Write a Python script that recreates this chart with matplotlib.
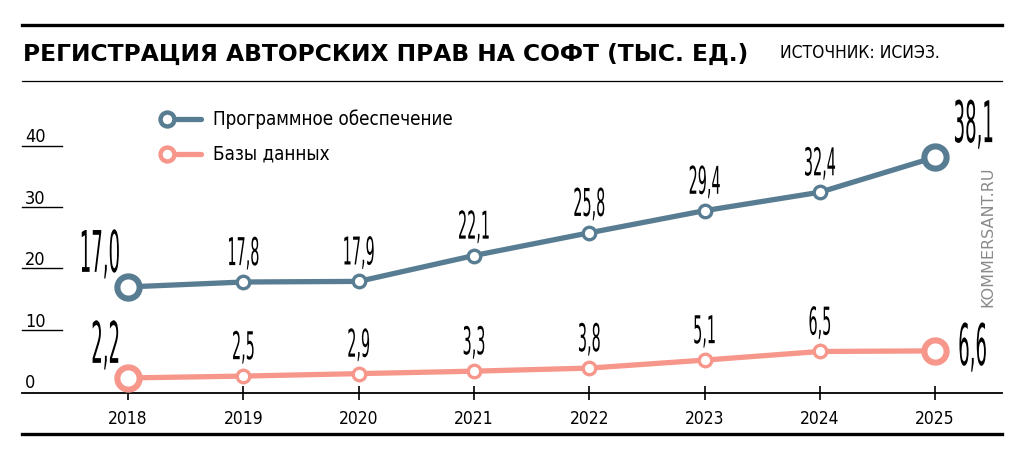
import matplotlib
matplotlib.use("Agg")
import matplotlib.pyplot as plt
from matplotlib import font_manager as fm
from matplotlib.lines import Line2D
from matplotlib.patheffects import AbstractPathEffect
from matplotlib.transforms import Affine2D

years = [2018, 2019, 2020, 2021, 2022, 2023, 2024, 2025]
software = [17.0, 17.8, 17.9, 22.1, 25.8, 29.4, 32.4, 38.1]
databases = [2.2, 2.5, 2.9, 3.3, 3.8, 5.1, 6.5, 6.6]
series_names = ["Программное обеспечение", "Базы данных"]
y_ticks = [0, 10, 20, 30, 40]

title = "РЕГИСТРАЦИЯ АВТОРСКИХ ПРАВ НА СОФТ (ТЫС. ЕД.)"
source = "ИСТОЧНИК: ИСИЭЗ."

BLUE = "#587d93"
PINK = "#f7978b"


def pick_narrow():
    cands = [("Liberation Sans Narrow", "normal"), ("DejaVu Sans", "condensed"),
             ("Roboto Condensed", "normal"), ("Open Sans", "condensed")]
    for fam, st in cands:
        try:
            path = fm.findfont(fm.FontProperties(family=fam, stretch=st),
                               fallback_to_default=False)
        except Exception:
            continue
        if "arrow" in path or "ondensed" in path:
            return dict(family=fam, fontstretch=st)
    return dict(family="DejaVu Sans", fontstretch="normal")


NARROW = pick_narrow()


class Stretch(AbstractPathEffect):
    # stretch glyphs vertically from the baseline (tall condensed look)
    def __init__(self, sy):
        super().__init__()
        self.sy = sy

    def draw_path(self, renderer, gc, tpath, affine, rgbFace=None):
        renderer.draw_path(gc, tpath, Affine2D().scale(1, self.sy) + affine, rgbFace)


W, H = 1024, 458
fig = plt.figure(figsize=(W / 100, H / 100), dpi=100)


def fx(px):
    return px / W


def fy(py):
    return 1 - py / H


# axes: x 22..1002 px, y 100..393 px
ax = fig.add_axes([fx(22), fy(393), fx(1002) - fx(22), fy(100) - fy(393)])
ax.set_xlim(2017.08, 2025.58)
ax.set_ylim(-0.25, 47.4)
for s in ["top", "right", "left"]:
    ax.spines[s].set_visible(False)
ax.spines["bottom"].set_linewidth(1.3)
ax.set_yticks([])
ax.set_xticks(years)
ax.set_xticklabels([str(y) for y in years], fontsize=12.5, **NARROW)
ax.tick_params(axis="x", direction="inout", length=10, width=1.2, pad=7)

# y tick marks as short lines with labels above
for t in y_ticks:
    if t > 0:
        ax.plot([0, 40 / 980], [t, t], color="black", lw=1.0,
                transform=ax.get_yaxis_transform(), clip_on=False)
    ax.text(3 / 980, t + 0.5, str(t), transform=ax.get_yaxis_transform(),
            fontsize=13, ha="left", va="baseline", **NARROW)


def draw_series(vals, color):
    ax.plot(years, vals, color=color, lw=3.8, solid_capstyle="round", zorder=2)
    ax.plot(years[1:-1], vals[1:-1], "o", ms=9, mew=2.4, mfc="white",
            mec=color, zorder=3)
    ax.plot([years[0], years[-1]], [vals[0], vals[-1]], "o", ms=16, mew=4.4,
            mfc="white", mec=color, zorder=3)


draw_series(software, BLUE)
draw_series(databases, PINK)


def fmt(v):
    return f"{v:.1f}".replace(".", ",")


def label(x, y, v, big, ha="center"):
    size = 14.5 if big else 11.5
    t = ax.text(x, y, fmt(v), fontsize=size, ha=ha, va="baseline", **NARROW)
    t.set_path_effects([Stretch(2.85 if big else 2.4)])


for vals in (software, databases):
    for i, (yr, v) in enumerate(zip(years, vals)):
        if 0 < i < len(years) - 1:
            label(yr, v + 2.75, v, False)

label(years[0] - 0.07, software[0] + 2.45, software[0], True, ha="right")
label(years[0] - 0.07, databases[0] + 2.45, databases[0], True, ha="right")
label(years[-1] + 0.16, software[-1] + 2.45, software[-1], True, ha="left")
label(years[-1] + 0.2, databases[-1] - 2.3, databases[-1], True, ha="left")

# legend
for name, color, py in zip(series_names, [BLUE, PINK], [119, 154]):
    fig.add_artist(Line2D([fx(167), fx(201)], [fy(py), fy(py)], color=color,
                          lw=3.8, solid_capstyle="round",
                          transform=fig.transFigure))
    fig.add_artist(Line2D([fx(167)], [fy(py)], marker="o", ms=10, mew=3.2,
                          mfc="white", mec=color, transform=fig.transFigure))
    fig.text(fx(213), fy(py), name, fontsize=13.5, ha="left", va="center",
             **NARROW)

# header and rules
fig.add_artist(Line2D([fx(22), fx(1002)], [fy(24.5), fy(24.5)], color="black",
                      lw=2.4, transform=fig.transFigure))
fig.add_artist(Line2D([fx(22), fx(1002)], [fy(81), fy(81)], color="black",
                      lw=0.9, transform=fig.transFigure))
fig.add_artist(Line2D([fx(22), fx(1002)], [fy(434), fy(434)], color="black",
                      lw=2.4, transform=fig.transFigure))

fig.text(fx(23), fy(54), title, family="DejaVu Sans", fontweight="bold",
         fontsize=16.8, ha="left", va="center")
fig.text(fx(780), fy(53), source, fontsize=12.5, ha="left", va="center",
         **NARROW)
fig.text(fx(988), fy(237), "KOMMERSANT.RU", family="DejaVu Sans",
         fontsize=11.5, color="#8a8a8a", rotation=90, ha="center", va="center")

fig.savefig("out.png", dpi=100)
